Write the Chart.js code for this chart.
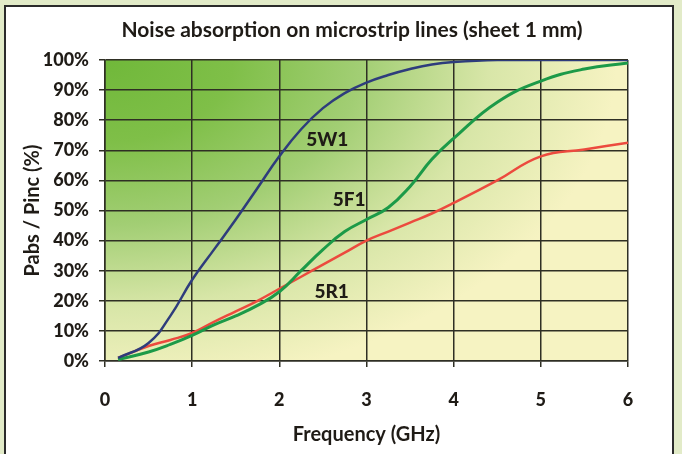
<!DOCTYPE html>
<html>
<head>
<meta charset="utf-8">
<script src="https://cdn.jsdelivr.net/npm/chart.js@4.4.0/dist/chart.umd.min.js"></script>
<style>
  html, body { margin: 0; padding: 0; background: #e2ebc8; }
  #wrap { position: relative; width: 682px; height: 454px; }
  #chart { position: absolute; left: 0; top: 0; }
</style>
</head>
<body>
<div id="wrap"><canvas id="chart" width="682" height="454"></canvas></div>
<script>
const freqs = [0.15, 0.5, 0.75, 1, 1.25, 1.5, 1.75, 2, 2.25, 2.5, 2.75, 3, 3.25, 3.5, 3.75, 4, 4.5, 5, 5.5, 6];
const w1 = [1, 6, 15, 27, 37, 47, 57.5, 68, 77, 84, 89, 92.5, 95, 97, 98.5, 99.3, 100, 100, 100, 100];
const f1 = [0.5, 3, 5.5, 8.5, 12, 15, 18.5, 23, 30, 37, 43, 47, 51, 58, 67, 74, 86, 93, 97, 99];
const r1 = [1, 5, 7, 9.3, 13, 16.5, 20, 24, 28, 32, 36, 40, 43, 46, 49, 52.5, 60, 68, 70.3, 72.5];
const seriesNames = ["5W1", "5F1", "5R1"];
const xTicks = [0, 1, 2, 3, 4, 5, 6];
const yTicks = [0, 10, 20, 30, 40, 50, 60, 70, 80, 90, 100];

const textFont = "Lato, 'DejaVu Sans', sans-serif";
const ink = "#1f1b16";

function pts(ys) {
  return freqs.map((f, i) => ({ x: f, y: ys[i] }));
}

// panel, gradient and the curve labels
const decor = {
  id: "decor",
  beforeDraw(chart) {
    const ctx = chart.ctx;
    const a = chart.chartArea;
    ctx.save();
    ctx.fillStyle = "#ffffff";
    ctx.fillRect(5, 6, 668, 460);
    ctx.strokeStyle = "#2b2b2b";
    ctx.lineWidth = 2;
    ctx.strokeRect(5, 6, 668, 460);

    ctx.beginPath();
    ctx.rect(a.left, a.top, a.right - a.left, a.bottom - a.top);
    ctx.clip();
    ctx.translate(a.left, a.top);
    ctx.scale(1.55, 1);
    const g = ctx.createRadialGradient(0, 0, 0, 0, 0, 330);
    g.addColorStop(0, "#70b83a");
    g.addColorStop(0.25, "#7fbf48");
    g.addColorStop(0.5, "#a2ce74");
    g.addColorStop(0.75, "#d8e6a8");
    g.addColorStop(1, "#f6f3c2");
    ctx.fillStyle = "#f6f3c2";
    ctx.fillRect(0, 0, 1000, 1000);
    ctx.fillStyle = g;
    ctx.fillRect(0, 0, 1000, 1000);
    ctx.restore();
  },
  afterDraw(chart) {
    const ctx = chart.ctx;
    const xs = chart.scales.x, ys = chart.scales.y;
    ctx.save();
    ctx.fillStyle = ink;
    ctx.textAlign = "center";
    ctx.textBaseline = "middle";
    ctx.font = "bold 21px " + textFont;
    ctx.fillText("Noise absorption on microstrip lines (sheet 1 mm)", 352, 30);
    ctx.font = "900 19px " + textFont;
    ctx.fillText(seriesNames[0], xs.getPixelForValue(2.55), ys.getPixelForValue(73.5));
    ctx.fillText(seriesNames[1], xs.getPixelForValue(2.8), ys.getPixelForValue(53.5));
    ctx.fillText(seriesNames[2], xs.getPixelForValue(2.6), ys.getPixelForValue(23));
    ctx.restore();
  }
};

new Chart(document.getElementById("chart"), {
  type: "line",
  data: {
    datasets: [
      { label: seriesNames[0], data: pts(w1), borderColor: "#2e3c7c", borderWidth: 2.5, tension: 0.45 },
      { label: seriesNames[1], data: pts(f1), borderColor: "#1c9a48", borderWidth: 3, tension: 0.45 },
      { label: seriesNames[2], data: pts(r1), borderColor: "#ec4a3e", borderWidth: 2.5, tension: 0.45 }
    ]
  },
  options: {
    responsive: false,
    animation: false,
    elements: {
      point: { radius: 0 },
      line: { fill: false, capBezierPoints: true }
    },
    layout: { padding: { left: 0, right: 54, top: 60, bottom: 0 } },
    plugins: {
      legend: { display: false },
      tooltip: { enabled: false },
      title: { display: false }
    },
    scales: {
      x: {
        type: "linear",
        min: 0,
        max: 6,
        afterBuildTicks(scale) { scale.ticks = xTicks.map(v => ({ value: v })); },
        afterFit(scale) { scale.height = 93; },
        grid: { color: "#2f2f24", lineWidth: 1.5, tickLength: 6, drawTicks: true },
        border: { color: "#2f2f24", width: 1.5 },
        ticks: {
          padding: 22,
          color: ink,
          font: { family: textFont, size: 18, weight: "900" },
          maxRotation: 0,
          callback: v => String(v)
        },
        title: {
          display: true,
          text: "Frequency (GHz)",
          color: ink,
          font: { family: textFont, size: 20, weight: "bold" },
          padding: { top: 0, bottom: 7 }
        }
      },
      y: {
        min: 0,
        max: 100,
        afterBuildTicks(scale) { scale.ticks = yTicks.map(v => ({ value: v })); },
        afterFit(scale) { scale.width = 105; },
        grid: { color: "#2f2f24", lineWidth: 1.5, tickLength: 6, drawTicks: true },
        border: { color: "#2f2f24", width: 1.5 },
        ticks: {
          padding: 10,
          color: ink,
          font: { family: textFont, size: 18, weight: "900" },
          callback: v => v + "%"
        },
        title: {
          display: true,
          text: "Pabs / Pinc (%)",
          color: ink,
          font: { family: textFont, size: 20, weight: "bold" },
          padding: { top: 21, bottom: 0 }
        }
      }
    }
  },
  plugins: [decor]
});
</script>
</body>
</html>
